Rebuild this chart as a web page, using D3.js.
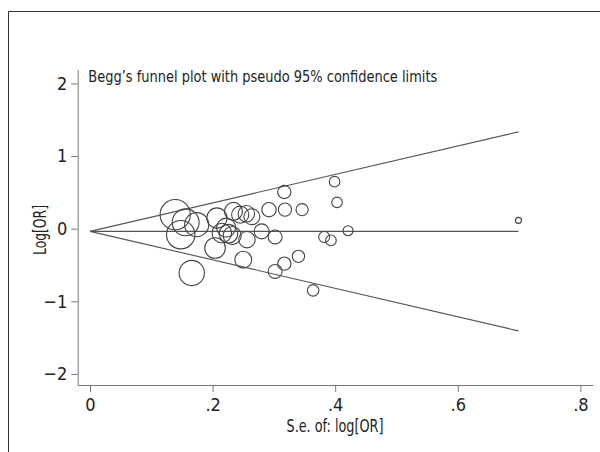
<!DOCTYPE html>
<html><head><meta charset="utf-8">
<script src="https://cdn.jsdelivr.net/npm/d3@7"></script>
<style>
html,body{margin:0;padding:0;background:#fff;}
svg{display:block;}
text{font-family:"Liberation Sans Narrow","DejaVu Sans Condensed","Roboto Condensed",sans-serif;fill:#222;}
</style></head>
<body>
<svg id="chart" width="600" height="452"></svg>
<script>
// ---- data ----
const titleText = "Begg\u2019s funnel plot with pseudo 95% confidence limits";
const xLabel = "S.e. of: log[OR]";
const yLabel = "Log[OR]";
const xTicks = [0, 0.2, 0.4, 0.6, 0.8];
const xTickLabels = ["0", ".2", ".4", ".6", ".8"];
const yTicks = [2, 1, 0, -1, -2];
const yTickLabels = ["2", "1", "0", "\u22121", "\u22122"];
const pooledLogOR = -0.037;
// standard errors of log OR
const seValues = [0.139, 0.156, 0.148, 0.174, 0.207, 0.204, 0.215, 0.226, 0.166, 0.234,
                  0.245, 0.255, 0.264, 0.280, 0.256, 0.250, 0.302, 0.292, 0.317, 0.318,
                  0.346, 0.399, 0.403, 0.421, 0.382, 0.393, 0.340, 0.317, 0.302, 0.364,
                  0.699, 0.222, 0.232];
// log OR
const logORValues = [0.193, 0.087, -0.083, 0.055, 0.147, -0.266, -0.059, -0.069, -0.610, 0.238,
                     0.193, 0.206, 0.165, -0.037, -0.151, -0.427, -0.114, 0.262, 0.505, 0.262,
                     0.262, 0.647, 0.362, -0.028, -0.114, -0.161, -0.381, -0.482, -0.588, -0.849,
                     0.114, 0.015, -0.095];

const svg = d3.select("#chart");
const W = 600, H = 452;

// outer frame
svg.append("path").attr("d", "M8.5,460 V11.5 H610")
  .attr("fill", "none").attr("stroke", "#333").attr("stroke-width", 1);

const x = d3.scaleLinear().domain([-0.0201, 0.8201]).range([77.7, 592.7]);
const y = d3.scaleLinear().domain([-2.152, 2.19]).range([385, 69.6]);

const studies = seValues.map((s, i) => ({se: s, lor: logORValues[i], w: 1 / (s * s)}));
const r = d3.scaleSqrt().domain([0, d3.max(studies, d => d.w)]).range([0, 2.1 * Math.sqrt(d3.max(studies, d => d.w))]);

// axes
const xAxis = d3.axisBottom(x).tickValues(xTicks).tickFormat((d, i) => xTickLabels[i]).tickSize(7).tickSizeOuter(0).tickPadding(6);
const gx = svg.append("g").attr("transform", "translate(0,385)").call(xAxis);
gx.select(".domain").attr("stroke", "#777");
gx.selectAll(".tick line").attr("stroke", "#777");
gx.selectAll(".tick text").attr("font-size", 18).attr("fill", "#222")
  .attr("font-family", "Liberation Sans Narrow, DejaVu Sans Condensed, sans-serif");

const yAxis = d3.axisLeft(y).tickValues(yTicks).tickFormat((d, i) => yTickLabels[i]).tickSize(6.5).tickSizeOuter(0).tickPadding(4);
const gy = svg.append("g").attr("transform", "translate(77.7,0)").call(yAxis);
gy.select(".domain").attr("stroke", "#777");
gy.selectAll(".tick line").attr("stroke", "#777");
gy.selectAll(".tick text").attr("font-size", 18).attr("fill", "#222")
  .attr("font-family", "Liberation Sans Narrow, DejaVu Sans Condensed, sans-serif");

// funnel lines
const maxSe = d3.max(seValues);
const lineGen = d3.line().x(d => x(d[0])).y(d => y(d[1]));
const funnel = [
  [[0, pooledLogOR], [maxSe, pooledLogOR]],
  [[0, pooledLogOR], [maxSe, pooledLogOR + 1.96 * maxSe]],
  [[0, pooledLogOR], [maxSe, pooledLogOR - 1.96 * maxSe]]
];
svg.append("g").selectAll("path").data(funnel).join("path")
  .attr("d", lineGen).attr("fill", "none").attr("stroke", "#555").attr("stroke-width", 1.1);

// study circles
svg.append("g").selectAll("circle").data(studies).join("circle")
  .attr("cx", d => x(d.se)).attr("cy", d => y(d.lor)).attr("r", d => r(d.w))
  .attr("fill", "none").attr("stroke", "#444").attr("stroke-width", 1.1);

// title
svg.append("text").attr("x", 88.3).attr("y", 81.5).attr("font-size", 16.5)
  .attr("textLength", 349).attr("lengthAdjust", "spacingAndGlyphs").text(titleText);

// axis titles
svg.append("text").attr("x", 335).attr("y", 432).attr("text-anchor", "middle").attr("font-size", 17)
  .attr("textLength", 97).attr("lengthAdjust", "spacingAndGlyphs").text(xLabel);
svg.append("text").attr("transform", "translate(46,230) rotate(-90)").attr("text-anchor", "middle").attr("font-size", 17)
  .attr("textLength", 50).attr("lengthAdjust", "spacingAndGlyphs").text(yLabel);
</script>
</body></html>
